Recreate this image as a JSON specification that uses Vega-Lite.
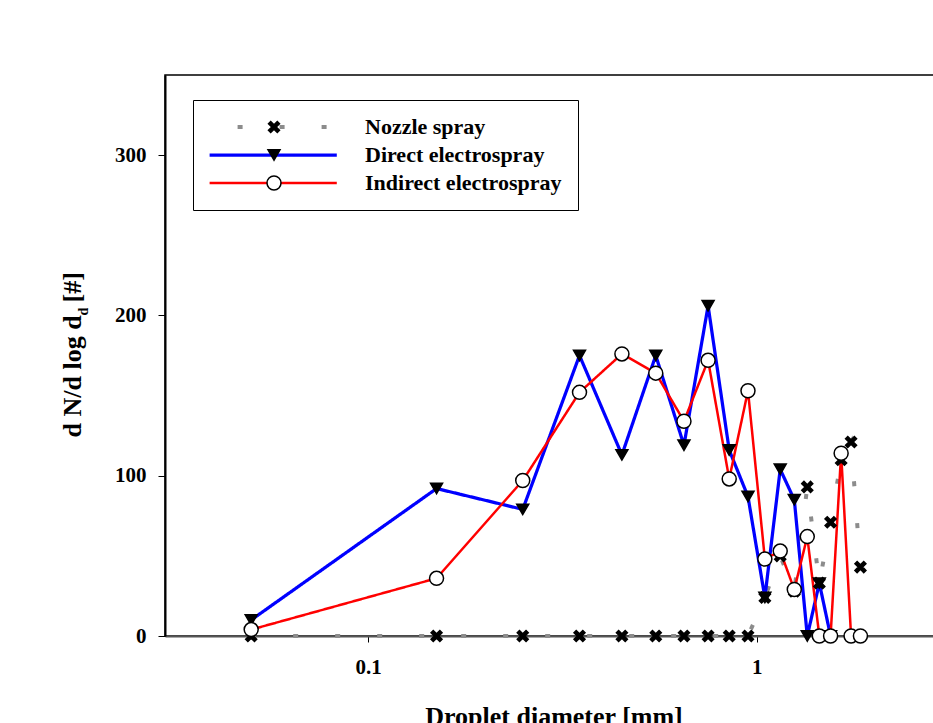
{
  "$schema": "https://vega.github.io/schema/vega-lite/v6.json",
  "width": 777,
  "height": 561,
  "autosize": {"type": "none"},
  "padding": {"left": 165, "top": 75, "right": 0, "bottom": 87},
  "background": "white",
  "config": {
    "font": "Liberation Serif",
    "view": {"stroke": "black", "strokeWidth": 1.5},
    "axis": {"labelFont": "Liberation Serif", "titleFont": "Liberation Serif", "labelFontWeight": "bold", "titleFontWeight": "bold", "labelColor": "black", "titleColor": "black", "tickColor": "black", "grid": false},
    "legend": {"labelFont": "Liberation Serif", "labelFontWeight": "bold", "labelFontSize": 22, "labelColor": "black", "labelLimit": 0}
  },
  "data": {"values": [
    {"series": "Nozzle spray", "d": 0.05, "n": 0},
    {"series": "Nozzle spray", "d": 0.15, "n": 0},
    {"series": "Nozzle spray", "d": 0.25, "n": 0},
    {"series": "Nozzle spray", "d": 0.35, "n": 0},
    {"series": "Nozzle spray", "d": 0.45, "n": 0},
    {"series": "Nozzle spray", "d": 0.55, "n": 0},
    {"series": "Nozzle spray", "d": 0.65, "n": 0},
    {"series": "Nozzle spray", "d": 0.75, "n": 0},
    {"series": "Nozzle spray", "d": 0.85, "n": 0},
    {"series": "Nozzle spray", "d": 0.95, "n": 0},
    {"series": "Nozzle spray", "d": 1.05, "n": 24},
    {"series": "Nozzle spray", "d": 1.15, "n": 50},
    {"series": "Nozzle spray", "d": 1.25, "n": 28},
    {"series": "Nozzle spray", "d": 1.35, "n": 93},
    {"series": "Nozzle spray", "d": 1.45, "n": 33},
    {"series": "Nozzle spray", "d": 1.55, "n": 71},
    {"series": "Nozzle spray", "d": 1.65, "n": 110},
    {"series": "Nozzle spray", "d": 1.75, "n": 121},
    {"series": "Nozzle spray", "d": 1.85, "n": 43},
    {"series": "Direct electrospray", "d": 0.05, "n": 10},
    {"series": "Direct electrospray", "d": 0.15, "n": 92},
    {"series": "Direct electrospray", "d": 0.25, "n": 79},
    {"series": "Direct electrospray", "d": 0.35, "n": 175},
    {"series": "Direct electrospray", "d": 0.45, "n": 113},
    {"series": "Direct electrospray", "d": 0.55, "n": 175},
    {"series": "Direct electrospray", "d": 0.65, "n": 119},
    {"series": "Direct electrospray", "d": 0.75, "n": 206},
    {"series": "Direct electrospray", "d": 0.85, "n": 116},
    {"series": "Direct electrospray", "d": 0.95, "n": 87},
    {"series": "Direct electrospray", "d": 1.05, "n": 24},
    {"series": "Direct electrospray", "d": 1.15, "n": 104},
    {"series": "Direct electrospray", "d": 1.25, "n": 85},
    {"series": "Direct electrospray", "d": 1.35, "n": 0},
    {"series": "Direct electrospray", "d": 1.45, "n": 33},
    {"series": "Direct electrospray", "d": 1.55, "n": 0},
    {"series": "Indirect electrospray", "d": 0.05, "n": 4},
    {"series": "Indirect electrospray", "d": 0.15, "n": 36},
    {"series": "Indirect electrospray", "d": 0.25, "n": 97},
    {"series": "Indirect electrospray", "d": 0.35, "n": 152},
    {"series": "Indirect electrospray", "d": 0.45, "n": 176},
    {"series": "Indirect electrospray", "d": 0.55, "n": 164},
    {"series": "Indirect electrospray", "d": 0.65, "n": 134},
    {"series": "Indirect electrospray", "d": 0.75, "n": 172},
    {"series": "Indirect electrospray", "d": 0.85, "n": 98},
    {"series": "Indirect electrospray", "d": 0.95, "n": 153},
    {"series": "Indirect electrospray", "d": 1.05, "n": 48},
    {"series": "Indirect electrospray", "d": 1.15, "n": 53},
    {"series": "Indirect electrospray", "d": 1.25, "n": 29},
    {"series": "Indirect electrospray", "d": 1.35, "n": 62},
    {"series": "Indirect electrospray", "d": 1.45, "n": 0},
    {"series": "Indirect electrospray", "d": 1.55, "n": 0},
    {"series": "Indirect electrospray", "d": 1.65, "n": 114},
    {"series": "Indirect electrospray", "d": 1.75, "n": 0},
    {"series": "Indirect electrospray", "d": 1.85, "n": 0}
  ]},
  "encoding": {
    "x": {
      "field": "d", "type": "quantitative",
      "scale": {"type": "log", "domain": [0.03, 3]},
      "axis": {"values": [0.1, 1], "format": "~g", "tickSize": 6, "tickWidth": 1, "labelFontSize": 21, "labelPadding": 14, "domainColor": "#555555", "domainWidth": 2, "title": "Droplet diameter [mm]", "titleFontSize": 26, "titleY": 88, "titleBaseline": "alphabetic"}
    }
  },
  "layer": [
    {
      "mark": {"type": "line", "strokeCap": "butt"},
      "encoding": {
        "y": {
          "field": "n", "type": "quantitative",
          "scale": {"domain": [0, 350]},
          "axis": {"orient": "left", "values": [0, 100, 200, 300], "tickSize": 7, "tickWidth": 1, "labelFontSize": 21, "labelPadding": 12, "domainColor": "black", "domainWidth": 2, "title": "d N/d log d\u00a0\u00a0[#]", "titleFontSize": 26, "titleAngle": 270, "titleX": -85, "titleY": 362, "titleAlign": "left", "titleBaseline": "alphabetic"}
        },
        "stroke": {
          "field": "series", "type": "nominal",
          "scale": {"domain": ["Nozzle spray", "Direct electrospray", "Indirect electrospray"], "range": ["#8c8c8c", "#0000ff", "#ff0000"]},
          "legend": {"title": null, "orient": "none", "legendX": 28, "legendY": 25, "padding": 16, "rowPadding": 6, "symbolType": "M-1.3,0L14.6,0", "symbolSize": 256, "symbolDashOffset": 14, "labelOffset": 134, "strokeColor": "black", "fillColor": "white"}
        },
        "strokeDash": {
          "field": "series", "type": "nominal",
          "scale": {"domain": ["Nozzle spray", "Direct electrospray", "Indirect electrospray"], "range": [[5, 37], [1, 0], [1, 0]]}
        },
        "strokeWidth": {
          "field": "series", "type": "nominal",
          "scale": {"domain": ["Nozzle spray", "Direct electrospray", "Indirect electrospray"], "range": [4, 2.5, 2.5]}
        }
      }
    },
    {
      "mark": {"type": "point", "filled": true, "stroke": "black", "strokeWidth": 1.5, "opacity": 1},
      "encoding": {
        "y": {
          "field": "n", "type": "quantitative",
          "axis": {"orient": "left", "labels": false, "ticks": false, "domain": false, "grid": false, "title": "d", "titleFontSize": 14, "titleAngle": 270, "titleX": -78, "titleY": 236, "titleAlign": "center", "titleBaseline": "alphabetic"}
        },
        "shape": {
          "field": "series", "type": "nominal",
          "scale": {"domain": ["Direct electrospray", "Indirect electrospray", "Nozzle spray"], "range": ["triangle-down", "circle", "M-1,-0.6L-0.6,-1L0,-0.4L0.6,-1L1,-0.6L0.4,0L1,0.6L0.6,1L0,0.4L-0.6,1L-1,0.6L-0.4,0Z"]},
          "legend": {"title": null, "orient": "none", "legendX": 82, "legendY": 25, "padding": 16, "rowPadding": 6, "labelOpacity": 0, "values": ["Nozzle spray", "Direct electrospray", "Indirect electrospray"]}
        },
        "fill": {
          "field": "series", "type": "nominal",
          "scale": {"domain": ["Direct electrospray", "Indirect electrospray", "Nozzle spray"], "range": ["black", "white", "black"]}
        },
        "size": {
          "field": "series", "type": "nominal",
          "scale": {"type": "ordinal", "domain": ["Direct electrospray", "Indirect electrospray", "Nozzle spray"], "range": [144, 196, 121]}
        }
      }
    }
  ],
  "resolve": {"axis": {"y": "independent"}}
}
